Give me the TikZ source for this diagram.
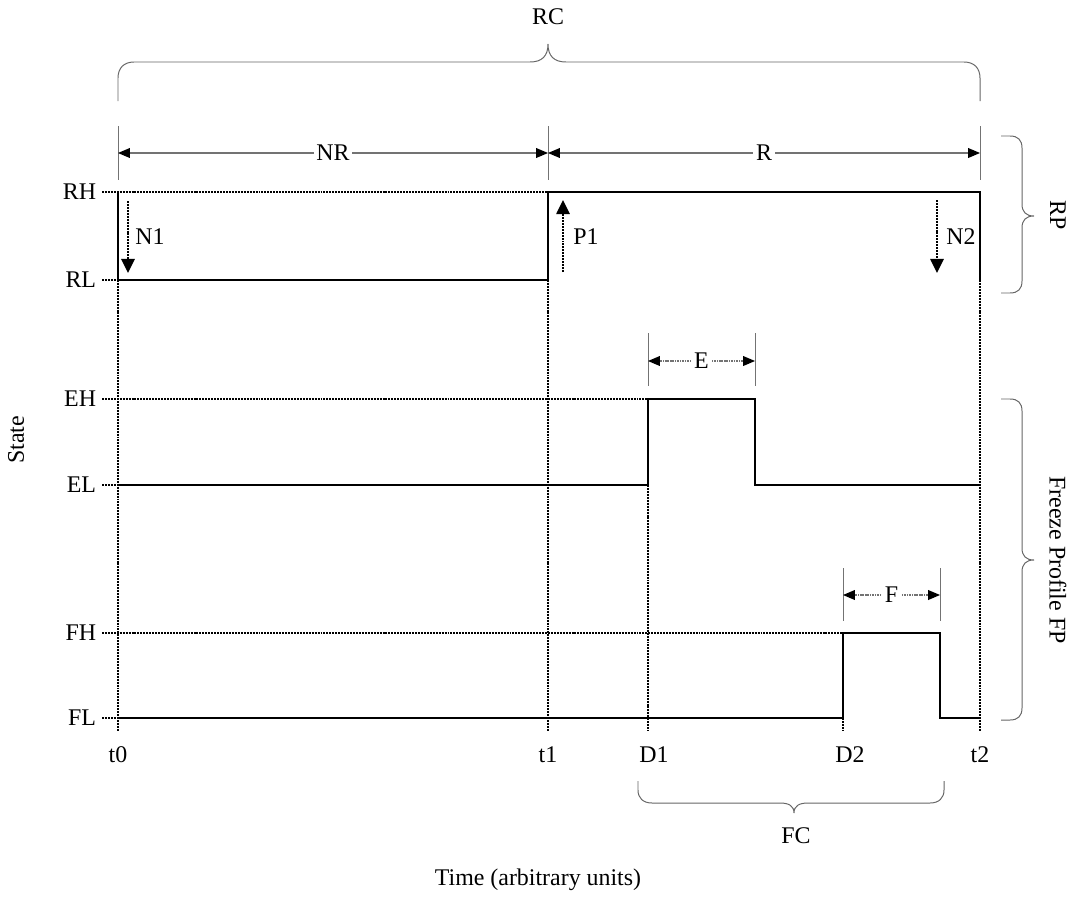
\documentclass[tikz,border=0pt]{standalone}
\usepackage{fontspec}
\setmainfont{Liberation Serif}
\usetikzlibrary{arrows.meta}

\tikzset{
  sig/.style={line width=1.4pt},
  dots/.style={line width=1.2pt, dash pattern=on 1.4pt off 0.7pt},
  ext/.style={black!55, line width=0.6pt},
  dimsolid/.style={black!55, line width=0.8pt, {Triangle[black,length=8.5pt,width=7pt]}-{Triangle[black,length=8.5pt,width=7pt]}},
  dimdot/.style={black!55, line width=0.8pt, dash pattern=on 0.8pt off 0.4pt, {Triangle[black,length=8.5pt,width=7pt]}-{Triangle[black,length=8.5pt,width=7pt]}},
  dimlab/.style={fill=white, text=black, inner sep=2pt},
  jump/.style={dots, -{Triangle[length=10pt,width=9.5pt]}},
  brc/.style={black!60, line width=0.7pt},
  lvl/.style={anchor=east, inner sep=4pt}
}

\begin{document}
\begin{tikzpicture}[x=0.025cm, y=-0.025cm, font=\fontsize{17}{20}\selectfont]
				\useasboundingbox (0,0) rectangle (1073,902);
				% Time marks and state levels:
				\coordinate (t0) at (118,0);
				\coordinate (t1) at (548,0);
				\coordinate (D1) at (648,0);
				\coordinate (Eoff) at (755,0);
				\coordinate (D2) at (843,0);
				\coordinate (Foff) at (940,0);
				\coordinate (t2) at (980,0);
				\coordinate (RH) at (0,192);
				\coordinate (RL) at (0,280);
				\coordinate (EH) at (0,399);
				\coordinate (EL) at (0,485);
				\coordinate (FH) at (0,633);
				\coordinate (FL) at (0,718);
				\coordinate (base) at (0,731);
				% Level labels and dotted ticks:
				\node[lvl] (lRH) at (102,192){RH};
				\node[lvl] (lRL) at (102,280){RL};
				\node[lvl] (lEH) at (102,399){EH};
				\node[lvl] (lEL) at (102,485){EL};
				\node[lvl] (lFH) at (102,633){FH};
				\node[lvl] (lFL) at (102,718){FL};
				\draw[dots] (lRH.east) -- (t1 |- RH);
				\draw[dots] (lRL.east) -- (t0 |- RL);
				\draw[dots] (lEH.east) -- (D1 |- EH);
				\draw[dots] (lEL.east) -- (t0 |- EL);
				\draw[dots] (lFH.east) -- (D2 |- FH);
				\draw[dots] (lFL.east) -- (t0 |- FL);
				% Vertical dotted guides:
				\draw[dots] (t0 |- RL) -- (t0 |- base);
				\draw[dots] (t1 |- RL) -- (t1 |- base);
				\draw[dots] (D1 |- EL) -- (D1 |- base);
				\draw[dots] (D2 |- FL) -- (D2 |- base);
				\draw[dots] (t2 |- RL) -- (t2 |- base);
				% Signals:
				\draw[sig] (t0 |- RH) -- (t0 |- RL) -- (t1 |- RL) -- (t1 |- RH) -- (t2 |- RH) -- (t2 |- RL);
				\draw[sig] (t0 |- EL) -- (D1 |- EL) -- (D1 |- EH) -- (Eoff |- EH) -- (Eoff |- EL) -- (t2 |- EL);
				\draw[sig] (t0 |- FL) -- (D2 |- FL) -- (D2 |- FH) -- (Foff |- FH) -- (Foff |- FL) -- (t2 |- FL);
				% Transitions:
				\coordinate (N1a) at (128,201);
				\coordinate (N1b) at (128,273);
				\draw[jump] (N1a) -- (N1b);
				\node (N1) at (150,237){N1};
				\coordinate (P1a) at (563,272);
				\coordinate (P1b) at (563,200);
				\draw[jump] (P1a) -- (P1b);
				\node (P1) at (586,237){P1};
				\coordinate (N2a) at (937,200);
				\coordinate (N2b) at (937,273);
				\draw[jump] (N2a) -- (N2b);
				\node (N2) at (961,237){N2};
				% Durations:
				\draw[ext] (t0 |- 0,126) -- (t0 |- 0,180);
				\draw[ext] (t1 |- 0,126) -- (t1 |- 0,180);
				\draw[ext] (t2 |- 0,126) -- (t2 |- 0,180);
				\draw[dimsolid] (t0 |- 0,153) -- node[dimlab](NR){NR} (t1 |- 0,153);
				\draw[dimsolid] (t1 |- 0,153) -- node[dimlab](R){R} (t2 |- 0,153);
				\draw[ext] (D1 |- 0,333) -- (D1 |- 0,386);
				\draw[ext] (Eoff |- 0,333) -- (Eoff |- 0,386);
				\draw[dimdot] (D1 |- 0,361) -- node[dimlab](E){E} (Eoff |- 0,361);
				\draw[ext] (D2 |- 0,568) -- (D2 |- 0,621);
				\draw[ext] (Foff |- 0,568) -- (Foff |- 0,621);
				\draw[dimdot] (D2 |- 0,595) -- node[dimlab](F){F} (Foff |- 0,595);
				% Braces:
				\draw[brc] (118,101) -- (118,78) .. controls (118,68) and (124,62) .. (134,62) -- (530,62) .. controls (542,62) and (548,56) .. (548,44) .. controls (548,56) and (554,62) .. (566,62) -- (964,62) .. controls (974,62) and (980,68) .. (980,78) -- (980,101);
				\node (RC) at (548,17){RC};
				\draw[brc] (1001,136) -- (1010,136) .. controls (1018,136) and (1022,140) .. (1022,148) -- (1022,204) .. controls (1022,212) and (1026,216) .. (1034,216) .. controls (1026,216) and (1022,220) .. (1022,228) -- (1022,281) .. controls (1022,289) and (1018,293) .. (1010,293) -- (1001,293);
				\node[rotate=-90] (RP) at (1058,215){RP};
				\draw[brc] (1001,399) -- (1010,399) .. controls (1018,399) and (1022,403) .. (1022,411) -- (1022,548) .. controls (1022,556) and (1026,560) .. (1034,560) .. controls (1026,560) and (1022,564) .. (1022,572) -- (1022,708) .. controls (1022,716) and (1018,720) .. (1010,720) -- (1001,720);
				\node[rotate=-90] (FP) at (1058,560){Freeze Profile FP};
				\draw[brc] (638,781) -- (638,790) .. controls (638,798) and (643,803) .. (652,803) -- (780,803) .. controls (789,803) and (794,806) .. (794,813) .. controls (794,806) and (799,803) .. (808,803) -- (930,803) .. controls (939,803) and (944,798) .. (944,790) -- (944,781);
				\node (FC) at (796,836){FC};
				% Time labels and axes:
				\node (lt0) at (118,755){t0};
				\node (lt1) at (548,755){t1};
				\node (lD1) at (654,755){D1};
				\node (lD2) at (850,755){D2};
				\node (lt2) at (980,755){t2};
				\node (xlab) at (538,880){Time (arbitrary units)};
				\node[rotate=90] (ylab) at (16,440){State};
			\end{tikzpicture}
\end{document}
